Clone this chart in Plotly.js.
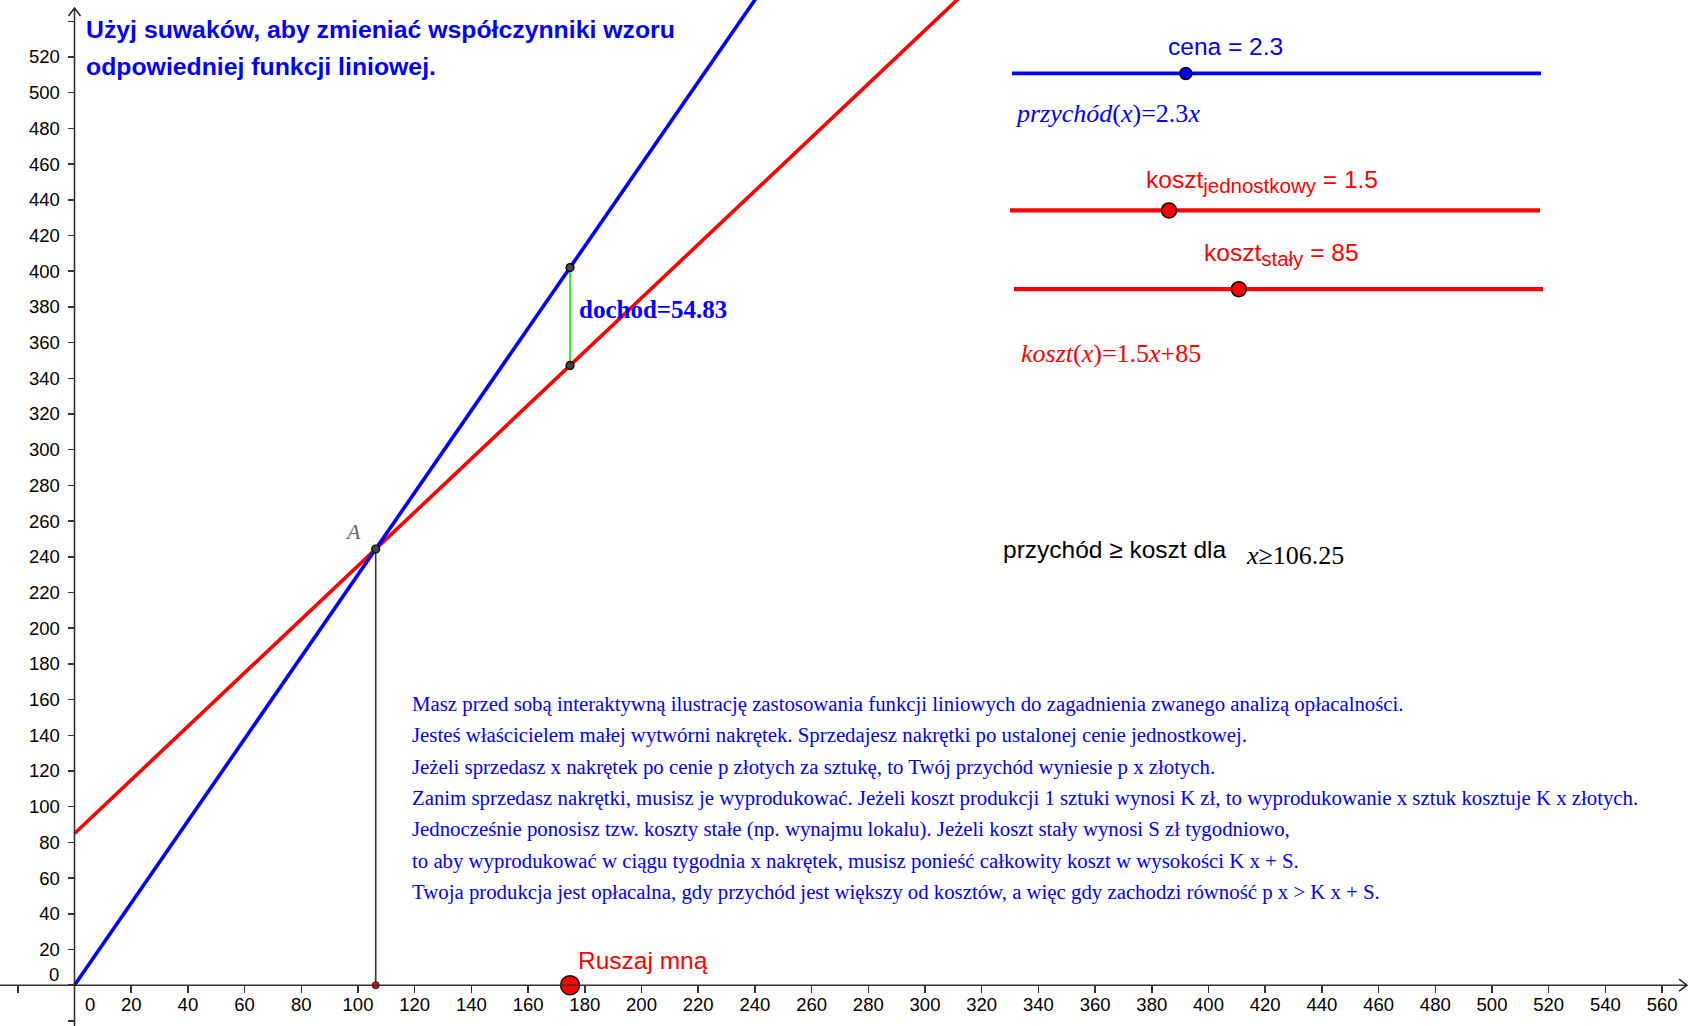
<!DOCTYPE html>
<html><head><meta charset="utf-8">
<script src="https://cdn.plot.ly/plotly-3.0.1.min.js"></script>
<style>html,body{margin:0;padding:0;background:#fff}#chart{width:1692px;height:1026px}</style>
</head><body><div id="chart"></div>
<script>
// ---- data ----
const cena = 2.3;                 // przychód(x) = cena * x
const kosztJednostkowy = 1.5;     // koszt(x) = kj * x + ks
const kosztStaly = 85;
const punktX = 174.79;            // "Ruszaj mną" point on the x axis
const lineXs = [0, 600];          // functions drawn for x >= 0

const sliderNames = ['cena', 'koszt', 'koszt'];
const sliderSubs = ['', 'jednostkowy', 'stały'];
const sliderValues = [2.3, 1.5, 85];
const sliderMin = [0, 0, 0];
const sliderMax = [7, 5, 200];

const xTickVals = [20, 40, 60, 80, 100, 120, 140, 160, 180, 200, 220, 240, 260, 280, 300, 320, 340, 360, 380, 400, 420, 440, 460, 480, 500, 520, 540, 560];
const xTickText = ['20', '40', '60', '80', '100', '120', '140', '160', '180', '200', '220', '240', '260', '280', '300', '320', '340', '360', '380', '400', '420', '440', '460', '480', '500', '520', '540', '560'];
const yTickVals = [20, 40, 60, 80, 100, 120, 140, 160, 180, 200, 220, 240, 260, 280, 300, 320, 340, 360, 380, 400, 420, 440, 460, 480, 500, 520];
const yTickText = ['20', '40', '60', '80', '100', '120', '140', '160', '180', '200', '220', '240', '260', '280', '300', '320', '340', '360', '380', '400', '420', '440', '460', '480', '500', '520'];
const tickStep = 20;
const zeroLabel = '0';

const titleLines = ['Użyj suwaków, aby zmieniać współczynniki wzoru', 'odpowiedniej funkcji liniowej.'];
const paragraph = [
  'Masz przed sobą interaktywną ilustrację zastosowania funkcji liniowych do zagadnienia zwanego analizą opłacalności.',
  'Jesteś właścicielem małej wytwórni nakrętek. Sprzedajesz nakrętki po ustalonej cenie jednostkowej.',
  'Jeżeli sprzedasz x nakrętek po cenie p złotych za sztukę, to Twój przychód wyniesie p x złotych.',
  'Zanim sprzedasz nakrętki, musisz je wyprodukować. Jeżeli koszt produkcji 1 sztuki wynosi K zł, to wyprodukowanie x sztuk kosztuje K x złotych.',
  'Jednocześnie ponosisz tzw. koszty stałe (np. wynajmu lokalu). Jeżeli koszt stały wynosi S zł tygodniowo,',
  'to aby wyprodukować w ciągu tygodnia x nakrętek, musisz ponieść całkowity koszt w wysokości K x + S.',
  'Twoja produkcja jest opłacalna, gdy przychód jest większy od kosztów, a więc gdy zachodzi równość p x > K x + S.'
];

// ---- geometry ----
const W = 1692, H = 1026;
const OX = 74.5, OY = 985.2, KX = 2.835, KY = 1.785;
const xr = [-OX / KX, (W - OX) / KX];
const yr = [-(H - OY) / KY, OY / KY];
const px = x => x / W;
const py = y => 1 - y / H;

const BLUE = '#0000ff', RED = '#ff0000', GREEN = '#00ee00';
const SANS = 'Liberation Sans, Arial, sans-serif';
const SERIF = 'Liberation Serif, Times New Roman, serif';

const przychod = x => cena * x;
const koszt = x => kosztJednostkowy * x + kosztStaly;
const xA = kosztStaly / (cena - kosztJednostkowy);
const yA = przychod(xA);
const dochod = przychod(punktX) - koszt(punktX);

const traces = [];
// function lines
traces.push({x: lineXs, y: lineXs.map(koszt), mode: 'lines', line: {color: RED, width: 3.6}, hoverinfo: 'skip'});
traces.push({x: lineXs, y: lineXs.map(przychod), mode: 'lines', line: {color: BLUE, width: 3.6}, hoverinfo: 'skip'});
// vertical from A
traces.push({x: [xA, xA], y: [0, yA], mode: 'lines', line: {color: '#333', width: 1.6}, hoverinfo: 'skip'});
// dochód segment
traces.push({x: [punktX, punktX], y: [koszt(punktX), przychod(punktX)], mode: 'lines', line: {color: GREEN, width: 1.6}, hoverinfo: 'skip'});
// points
traces.push({x: [xA, punktX, punktX], y: [yA, koszt(punktX), przychod(punktX)], mode: 'markers',
  marker: {size: 8, color: '#444', line: {color: '#000', width: 1.2}}, hoverinfo: 'skip'});
traces.push({x: [xA], y: [0], mode: 'markers', marker: {size: 7, color: RED, line: {color: '#222', width: 1}}, hoverinfo: 'skip'});
traces.push({x: [punktX], y: [0], mode: 'markers', marker: {size: 19, color: RED, line: {color: '#111', width: 1.5}}, hoverinfo: 'skip'});

// sliders (pixel overlay axes)
const sliderGeom = [
  {x0: 1012, x1: 1541, y: 73.4, color: BLUE, size: 12, lw: 3.6, lx: 1166.5, ly: 46.4},
  {x0: 1010, x1: 1540, y: 210.4, color: RED, size: 15, lw: 4.2, lx: 1145, ly: 182},
  {x0: 1014, x1: 1543, y: 289.2, color: RED, size: 15, lw: 4.2, lx: 1203, ly: 255}
];
sliderGeom.forEach((g, i) => {
  traces.push({x: [g.x0, g.x1], y: [g.y, g.y], xaxis: 'x2', yaxis: 'y2', mode: 'lines', line: {color: g.color, width: g.lw}, hoverinfo: 'skip'});
  const f = (sliderValues[i] - sliderMin[i]) / (sliderMax[i] - sliderMin[i]);
  traces.push({x: [g.x0 + f * (g.x1 - g.x0)], y: [g.y], xaxis: 'x2', yaxis: 'y2', mode: 'markers',
    marker: {size: g.size, color: g.color, line: {color: '#000', width: 1.5}}, hoverinfo: 'skip'});
});

// axis lines and arrows (pixel overlay)
const shapes = [
  {type: 'line', xref: 'x2', yref: 'y2', x0: 0, x1: 1686, y0: OY, y1: OY, line: {color: '#333', width: 1.6}},
  {type: 'line', xref: 'x2', yref: 'y2', x0: OX, x1: OX, y0: H, y1: 8, line: {color: '#333', width: 1.6}},
  {type: 'path', xref: 'x2', yref: 'y2', path: `M${OX - 6},${16} L${OX},${8} L${OX + 6},${16}`, line: {color: '#222', width: 1.5}},
  {type: 'path', xref: 'x2', yref: 'y2', path: `M1679,${OY - 6} L1687,${OY} L1679,${OY + 6}`, line: {color: '#222', width: 1.5}}
];

const ann = [];
const txt = (x, y, text, font, xanchor = 'left', yanchor = 'middle') =>
  ann.push({xref: 'paper', yref: 'paper', x: px(x), y: py(y), text, showarrow: false, xanchor, yanchor, font, borderpad: 0});

// titles
txt(85, 30, '<b>' + titleLines[0] + '</b>', {family: SANS, size: 24.8, color: BLUE});
txt(85, 67, '<b>' + titleLines[1] + '</b>', {family: SANS, size: 24.8, color: BLUE});
// zero labels
txt(89.6, 1004.6, zeroLabel, {family: SANS, size: 18.5, color: '#000'}, 'center');
txt(54, 974.5, zeroLabel, {family: SANS, size: 18.5, color: '#000'}, 'center');
// slider labels
sliderGeom.forEach((g, i) => {
  const sub = sliderSubs[i] ? '<sub><span style="font-size:20.5px">' + sliderSubs[i] + '</span></sub>' : '';
  txt(g.lx, g.ly, sliderNames[i] + sub + ' = ' + sliderValues[i], {family: SANS, size: 24.5, color: g.color});
});
// function formulas
txt(1014, 113, '<i>przychód</i>(<i>x</i>)=' + cena + '<i>x</i>', {family: SERIF, size: 26, color: BLUE});
txt(1020, 353, '<i>koszt</i>(<i>x</i>)=' + kosztJednostkowy + '<i>x</i>+' + kosztStaly, {family: SERIF, size: 26, color: RED});
// dochód label
txt(578, 309, '<b>dochod=' + dochod.toFixed(2) + '</b>', {family: SERIF, size: 25, color: BLUE});
// A label
txt(353, 531, '<i>A</i>', {family: SERIF, size: 22, color: '#666'}, 'center');
// Ruszaj mną
txt(577, 960, 'Ruszaj mną', {family: SANS, size: 24.5, color: RED});
// inequality
txt(1002, 549, 'przychód ≥ koszt dla', {family: SANS, size: 24.5, color: '#000'});
txt(1245, 555, '<i>x</i>≥' + xA.toFixed(2), {family: SERIF, size: 26, color: '#000'});
// paragraph
paragraph.forEach((line, i) => txt(411, 703.6 + i * 31.46, line, {family: SERIF, size: 20.8, color: BLUE}));

const tickStyle = {ticks: 'outside', ticklen: 7, tickwidth: 1.5, tickcolor: '#333'};
const axisCommon = Object.assign({showgrid: false, zeroline: false, showline: false, tickmode: 'array',
  tickfont: {family: SANS, size: 18.5, color: '#000'}, fixedrange: true,
  minor: Object.assign({tickmode: 'linear', tick0: 0, dtick: tickStep, showgrid: false}, tickStyle)}, tickStyle);

const layout = {
  width: W, height: H, margin: {l: 0, r: 0, t: 0, b: 0, pad: 0},
  paper_bgcolor: '#fff', plot_bgcolor: '#fff', showlegend: false,
  xaxis: Object.assign({}, axisCommon, {range: xr, anchor: 'free', position: (0 - yr[0]) / (yr[1] - yr[0]),
    tickvals: xTickVals, ticktext: xTickText, ticklabelstandoff: -4}),
  yaxis: Object.assign({}, axisCommon, {range: yr, anchor: 'free', position: (0 - xr[0]) / (xr[1] - xr[0]),
    tickvals: yTickVals, ticktext: yTickText, ticklabelstandoff: 4}),
  xaxis2: {range: [0, W], overlaying: 'x', anchor: 'y2', visible: false, fixedrange: true},
  yaxis2: {range: [H, 0], overlaying: 'y', anchor: 'x2', visible: false, fixedrange: true},
  shapes, annotations: ann
};

Plotly.newPlot('chart', traces, layout, {displayModeBar: false, staticPlot: true});
</script>
</body></html>
